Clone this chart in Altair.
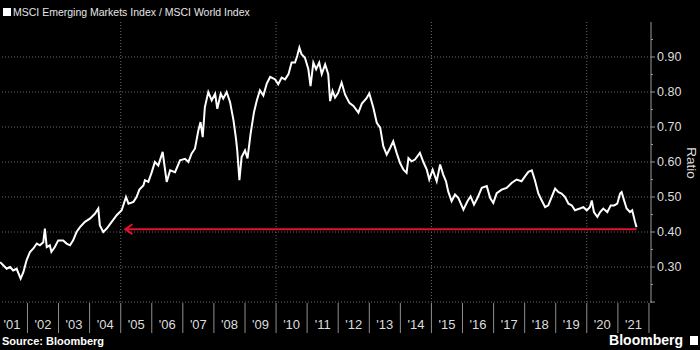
import altair as alt
import pandas as pd

# ---- data (decimal years, ratio) ----
years = [
    2001.12, 2001.22, 2001.33, 2001.44, 2001.54, 2001.65, 2001.78, 2001.87, 2001.97,
    2002.08, 2002.19, 2002.30, 2002.40, 2002.51, 2002.56, 2002.62, 2002.72, 2002.77, 2002.88, 2002.99,
    2003.15, 2003.26, 2003.37, 2003.47, 2003.58, 2003.69, 2003.85,
    2004.01, 2004.17, 2004.28, 2004.33, 2004.44, 2004.55, 2004.71, 2004.87,
    2005.03, 2005.17, 2005.25, 2005.41, 2005.51, 2005.60, 2005.73, 2005.78, 2005.89,
    2006.00, 2006.10, 2006.21, 2006.35, 2006.43, 2006.48, 2006.59, 2006.75, 2006.91,
    2007.07, 2007.18, 2007.28, 2007.39, 2007.50, 2007.57, 2007.64, 2007.71, 2007.82, 2007.93,
    2008.04, 2008.11, 2008.22, 2008.30, 2008.41, 2008.52, 2008.63, 2008.71, 2008.75, 2008.82, 2008.89,
    2009.00, 2009.08, 2009.18, 2009.29, 2009.38, 2009.48, 2009.59, 2009.70, 2009.81, 2009.97,
    2010.07, 2010.18, 2010.29, 2010.40, 2010.50, 2010.61, 2010.68, 2010.75, 2010.82, 2010.93,
    2011.04, 2011.11, 2011.20, 2011.29, 2011.39, 2011.47, 2011.58, 2011.68, 2011.74, 2011.82, 2011.90,
    2012.00, 2012.11, 2012.22, 2012.36, 2012.49, 2012.65, 2012.76, 2012.90,
    2013.00, 2013.13, 2013.24, 2013.35, 2013.45, 2013.56, 2013.67, 2013.77, 2013.88, 2013.99,
    2014.10, 2014.20, 2014.26, 2014.36, 2014.47, 2014.63, 2014.74, 2014.85, 2014.93,
    2015.04, 2015.17, 2015.28, 2015.38, 2015.47, 2015.54, 2015.65, 2015.76, 2015.87,
    2016.03, 2016.16, 2016.26, 2016.37, 2016.48, 2016.62, 2016.78, 2016.89, 2016.99,
    2017.10, 2017.26, 2017.42, 2017.58, 2017.74, 2017.90,
    2018.01, 2018.12, 2018.23, 2018.33, 2018.44, 2018.55, 2018.66, 2018.76, 2018.87, 2018.98,
    2019.09, 2019.19, 2019.30, 2019.41, 2019.52, 2019.62, 2019.78, 2019.89,
    2020.00, 2020.10, 2020.16, 2020.23, 2020.34, 2020.43, 2020.53, 2020.66, 2020.77, 2020.88, 2020.98,
    2021.07, 2021.12, 2021.20, 2021.28, 2021.39, 2021.46, 2021.55, 2021.60,
]
ratio = [
    0.314, 0.305, 0.295, 0.300, 0.290, 0.295, 0.267, 0.286, 0.319,
    0.343, 0.353, 0.367, 0.362, 0.371, 0.410, 0.357, 0.362, 0.343, 0.357, 0.376,
    0.376, 0.367, 0.362, 0.376, 0.400, 0.414, 0.429,
    0.438, 0.452, 0.467, 0.419, 0.400, 0.410, 0.429, 0.448,
    0.462, 0.500, 0.481, 0.486, 0.500, 0.521, 0.533, 0.548, 0.543,
    0.571, 0.600, 0.590, 0.629, 0.576, 0.543, 0.576, 0.571, 0.605,
    0.609, 0.600, 0.624, 0.638, 0.690, 0.714, 0.671, 0.757, 0.800, 0.776,
    0.795, 0.752, 0.795, 0.781, 0.800, 0.771, 0.719, 0.667, 0.633, 0.548, 0.614,
    0.633, 0.610, 0.681, 0.743, 0.776, 0.805, 0.790, 0.824, 0.843, 0.836,
    0.822, 0.841, 0.836, 0.851, 0.884, 0.884, 0.903, 0.927, 0.908, 0.898,
    0.865, 0.817, 0.884, 0.865, 0.884, 0.851, 0.879, 0.851, 0.774, 0.803, 0.784,
    0.798, 0.827, 0.793, 0.769, 0.760, 0.741, 0.767, 0.781,
    0.796, 0.755, 0.712, 0.698, 0.645, 0.621, 0.640, 0.659, 0.626, 0.597,
    0.578, 0.569, 0.611, 0.602, 0.607, 0.626, 0.600, 0.578, 0.550,
    0.578, 0.545, 0.593, 0.564, 0.545, 0.516, 0.488, 0.507, 0.497,
    0.464, 0.488, 0.502, 0.478, 0.497, 0.526, 0.531, 0.497, 0.483,
    0.511, 0.521, 0.526, 0.540, 0.550, 0.545,
    0.559, 0.572, 0.576, 0.548, 0.510, 0.490, 0.471, 0.476, 0.500, 0.524,
    0.514, 0.510, 0.500, 0.481, 0.476, 0.462, 0.467, 0.471,
    0.462, 0.471, 0.490, 0.457, 0.443, 0.457, 0.467, 0.457, 0.476, 0.476, 0.481,
    0.510, 0.514, 0.490, 0.467, 0.457, 0.462, 0.429, 0.414,
]

arrow_years = [2005.15, 2021.60]
arrow_values = [0.408, 0.408]
grid_years = [2005, 2010, 2015, 2020]
x_tick_years = list(range(2002, 2023))
x_label_years = [y + 0.5 for y in range(2001, 2022)]
x_label_text = ["'01", "'02", "'03", "'04", "'05", "'06", "'07", "'08", "'09", "'10", "'11",
                "'12", "'13", "'14", "'15", "'16", "'17", "'18", "'19", "'20", "'21"]
y_major = [0.20, 0.30, 0.40, 0.50, 0.60, 0.70, 0.80, 0.90]
y_minor = [0.25, 0.35, 0.45, 0.55, 0.65, 0.75, 0.85, 0.95]
y_label_values = [0.30, 0.40, 0.50, 0.60, 0.70, 0.80, 0.90]
y_label_text = ["0.30", "0.40", "0.50", "0.60", "0.70", "0.80", "0.90"]

title_text = ["MSCI Emerging Markets Index / MSCI World Index"]
axis_title = ["Ratio"]
source_text = ["Source: Bloomberg"]
brand_text = ["Bloomberg"]


def to_date(y):
    yr = int(y)
    start = pd.Timestamp(yr, 1, 1)
    end = pd.Timestamp(yr + 1, 1, 1)
    return start + (end - start) * (y - yr)


df = pd.DataFrame({"date": [to_date(y) for y in years], "ratio": ratio})
arrow_df = pd.DataFrame({"date": [to_date(y) for y in arrow_years], "ratio": arrow_values})
vgrid_df = pd.DataFrame({"gdate": [pd.Timestamp(y, 1, 1) for y in grid_years]})
xtick_df = pd.DataFrame({"tdate": [pd.Timestamp(y, 1, 1) for y in x_tick_years]})
xlab_df = pd.DataFrame({"ldate": [to_date(y) for y in x_label_years], "lab": x_label_text})
hgrid_df = pd.DataFrame({"gval": y_major})
minor_df = pd.DataFrame({"mval": y_minor})
ylab_df = pd.DataFrame({"yval": y_label_values, "lab": y_label_text})

x_scale = alt.Scale(domain=[alt.DateTime(year=2001, month=2, date=12),
                            alt.DateTime(year=2022, month=1, date=25)])
y_scale = alt.Scale(domain=[0.2, 1.0], nice=False, zero=False)


def X(field):
    return alt.X(field, scale=x_scale, axis=None)


def Y(field):
    return alt.Y(field, scale=y_scale, axis=None)


hgrid = alt.Chart(hgrid_df).mark_rule(color="#6a6a6a", strokeDash=[1, 2], strokeWidth=1).encode(
    y=Y("gval:Q")
)

vgrid = alt.Chart(vgrid_df).mark_rule(color="#6a6a6a", strokeDash=[1, 2], strokeWidth=1).encode(
    x=X("gdate:T")
)

xticks = alt.Chart(xtick_df).mark_rule(color="#8f8f8f", strokeWidth=1).encode(
    x=X("tdate:T"),
    y=alt.value(281),
    y2=alt.value(311),
)

xlabels = alt.Chart(xlab_df).mark_text(
    align="center", baseline="middle", fontSize=13, color="#dddddd"
).encode(x=X("ldate:T"), y=alt.value(303), text="lab:N")

ydomain = alt.Chart(pd.DataFrame({"t": axis_title})).mark_rule(color="#9a9a9a", strokeWidth=1).encode(
    x=alt.value(651), y=alt.value(0), y2=alt.value(281)
)

major_ticks = alt.Chart(hgrid_df).mark_rule(color="#9a9a9a", strokeWidth=1).encode(
    y=Y("gval:Q"), x=alt.value(651), x2=alt.value(655)
)

minor_ticks = alt.Chart(minor_df).mark_rule(color="#9a9a9a", strokeWidth=1).encode(
    y=Y("mval:Q"), x=alt.value(651), x2=alt.value(653)
)

ylabels = alt.Chart(ylab_df).mark_text(
    align="left", baseline="middle", fontSize=12.5, color="#dddddd"
).encode(y=Y("yval:Q"), x=alt.value(657), text="lab:N")

ytitle = alt.Chart(pd.DataFrame({"t": axis_title})).mark_text(
    align="center", baseline="middle", fontSize=13.5, color="#dddddd", angle=90
).encode(text="t:N", x=alt.value(691), y=alt.value(141))

line = alt.Chart(df).mark_line(color="#ffffff", strokeWidth=2).encode(
    x=X("date:T"), y=Y("ratio:Q")
)

arrow_line = alt.Chart(arrow_df).mark_line(color="#e3122f", strokeWidth=2).encode(
    x=X("date:T"), y=Y("ratio:Q")
)

arrow_head = alt.Chart(arrow_df.iloc[:1]).mark_point(
    shape="M1,-0.7L0,0L1,0.7", filled=False, color="#e3122f", strokeWidth=2, size=196, opacity=1
).encode(x=X("date:T"), y=Y("ratio:Q"))

title_sq = alt.Chart(pd.DataFrame({"t": title_text})).mark_rect(color="#ffffff").encode(
    x=alt.value(3), x2=alt.value(11), y=alt.value(-14), y2=alt.value(-6)
)
title = alt.Chart(pd.DataFrame({"t": title_text})).mark_text(
    align="left", baseline="middle", fontSize=10.5, color="#e6e6e6"
).encode(text="t:N", x=alt.value(13), y=alt.value(-9))

source = alt.Chart(pd.DataFrame({"t": source_text})).mark_text(
    align="left", baseline="middle", fontSize=11, fontWeight="bold", color="#ffffff"
).encode(text="t:N", x=alt.value(2), y=alt.value(320))

brand = alt.Chart(pd.DataFrame({"t": brand_text})).mark_text(
    align="right", baseline="middle", fontSize=14, fontWeight="bold", color="#ffffff"
).encode(text="t:N", x=alt.value(683), y=alt.value(319))

logo = alt.Chart(pd.DataFrame({"t": brand_text})).mark_rect(color="#ffffff").encode(
    x=alt.value(690), x2=alt.value(698), y=alt.value(314), y2=alt.value(323)
)

chart = alt.layer(
    hgrid, vgrid, xticks, xlabels, ydomain, major_ticks, minor_ticks, ylabels, ytitle,
    line, arrow_line, arrow_head, title_sq, title, source, brand, logo
).properties(
    width=651,
    height=280,
    background="#000000",
    padding={"left": 0, "top": 22, "right": 49, "bottom": 48},
    autosize=alt.AutoSizeParams(type="none"),
).configure(font="Liberation Sans").configure_view(stroke=None)

chart.save("out.html", embed_options={"renderer": "svg", "actions": False})
